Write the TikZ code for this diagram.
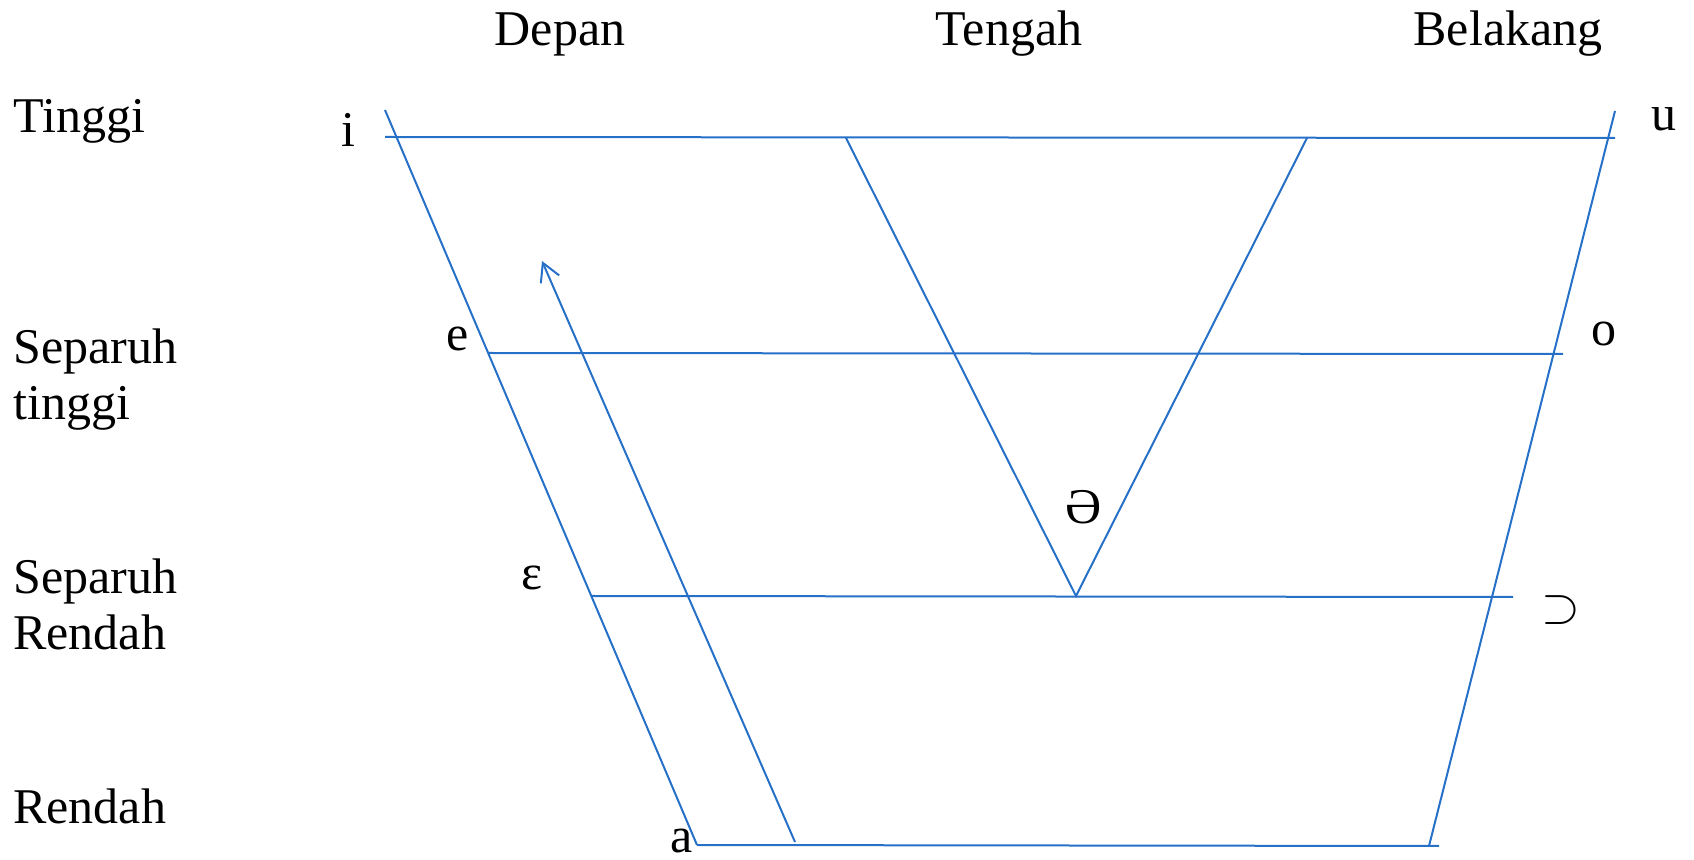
\documentclass[tikz,border=0pt]{standalone}
\usepackage{fontspec}
\setmainfont{Liberation Serif}
\usetikzlibrary{arrows.meta}
\definecolor{lineblue}{RGB}{38,112,200}
\tikzset{
  chart/.style={lineblue, line width=1pt},
  lbl/.style={inner sep=0pt, anchor=base, font=\fontsize{25}{28}\selectfont},
  side/.style={lbl, anchor=base west, align=left},
}
\begin{document}
\begin{tikzpicture}[x=0.5pt,y=-0.5pt]
    \useasboundingbox (0,0) rectangle (1694,860);
    % column and row labels
    \node[lbl] (depan) at (560,46) {Depan};
    \node[lbl] (tengah) at (1009,46) {Tengah};
    \node[lbl] (belakang) at (1508,46) {Belakang};
    \node[side] (tinggi) at (13,133) {Tinggi};
    \node[side] (stinggi) at (13,420) {Separuh\\tinggi};
    \node[side] (srendah) at (13,650) {Separuh\\Rendah};
    \node[side] (rendah) at (13,824) {Rendah};
    % vowels
    \node[lbl] (i) at (348,147) {i};
    \node[lbl] (u) at (1664,131) {u};
    \node[lbl] (e) at (458,351) {e};
    \node[lbl] (o) at (1604,346) {o};
    \node[lbl] (eps) at (532,590) {ɛ};
    \node[lbl, anchor=center] (schwa) at (1084,507) {Ə};
    \node[lbl, anchor=center] (open) at (1561,610) {$\supset$};
    \node[lbl] (a) at (682,853) {a};
    % frame
    \coordinate (lt) at (385,110);
    \coordinate (lb) at (697,845);
    \coordinate (rt) at (1615,111);
    \coordinate (rb) at (1429,846);
    \draw[chart] (lt)--(lb);
    \draw[chart] (rt)--(rb);
    \draw[chart] (385,137)--(1615,138);
    \draw[chart] (488,353)--(1563,354);
    \draw[chart] (592,596)--(1513,597);
    \draw[chart] (lb)--(1439,846);
    % central vowel
    \coordinate (vl) at (846,138);
    \coordinate (vr) at (1307,138);
    \coordinate (vb) at (1076,596);
    \draw[chart] (vl)--(vb)--(vr);
    % direction
    \coordinate (ar0) at (795,842);
    \coordinate (ar1) at (542,261);
    \draw[chart,-{Straight Barb[length=9pt,width=10pt]}] (ar0)--(ar1);
\end{tikzpicture}
\end{document}
